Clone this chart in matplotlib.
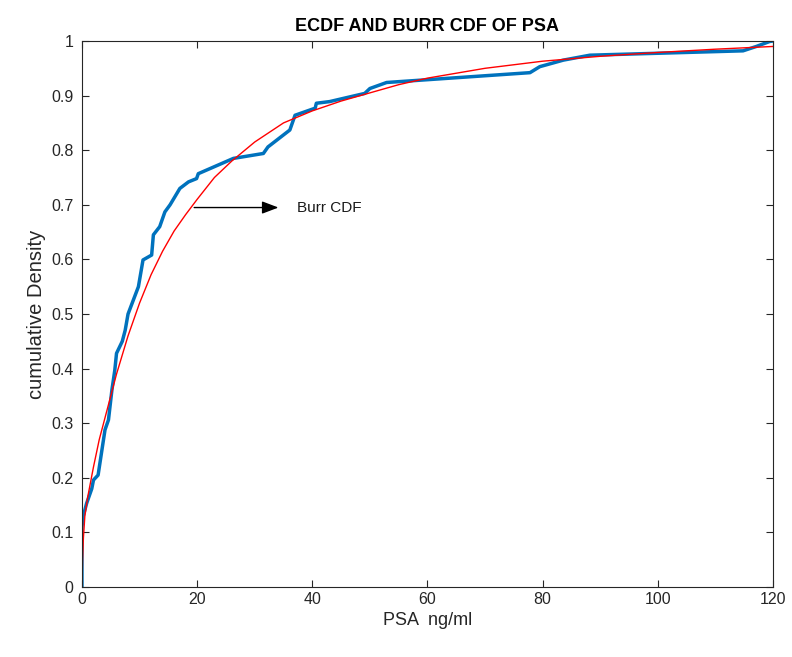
import numpy as np
import matplotlib.pyplot as plt

plt.rcParams['font.family'] = ['Liberation Sans', 'DejaVu Sans']

# ECDF of PSA
psa_ecdf = [0, 0, 0.2, 0.8, 1.7, 2.0, 2.8, 4.0, 4.6, 5.2, 5.7, 6.0, 7.0, 7.5, 8.0, 8.9,
            9.8, 10.6, 12.1, 12.4, 13.5, 14.4, 15.3, 17.0, 18.5, 19.9, 20.2, 26.3, 31.5,
            32.3, 36.1, 37.0, 40.5, 40.7, 43.0, 49.1, 50.0, 52.9, 77.8, 79.5, 83.6, 88.2,
            114.8, 117.1, 119.4, 120]
ecdf_val = [0, 0.11, 0.129, 0.153, 0.18, 0.196, 0.205, 0.288, 0.306, 0.361, 0.397, 0.428,
            0.45, 0.47, 0.50, 0.525, 0.55, 0.599, 0.608, 0.645, 0.66, 0.687, 0.70, 0.73,
            0.742, 0.748, 0.757, 0.785, 0.794, 0.806, 0.837, 0.864, 0.877, 0.886, 0.889,
            0.904, 0.913, 0.924, 0.942, 0.953, 0.965, 0.974, 0.982, 0.99, 0.999, 1.0]

# Burr CDF
psa_burr = [0, 0.1, 0.25, 0.5, 1, 2, 3, 4, 5, 6, 7, 8, 10, 12, 14, 16, 18, 20, 23, 26,
            30, 35, 40, 45, 50, 55, 60, 70, 80, 90, 100, 110, 120]
burr_val = [0, 0.05, 0.09, 0.13, 0.165, 0.22, 0.27, 0.31, 0.35, 0.39, 0.425, 0.46, 0.52,
            0.572, 0.615, 0.652, 0.682, 0.71, 0.75, 0.78, 0.815, 0.85, 0.872, 0.89, 0.905,
            0.92, 0.932, 0.95, 0.963, 0.972, 0.979, 0.985, 0.99]

fig = plt.figure(figsize=(7.92, 6.57), dpi=100)
ax = fig.add_axes([0.1035, 0.1065, 0.8725, 0.8311])

ax.plot(psa_ecdf, ecdf_val, color='#0072BD', linewidth=2.5)
ax.plot(psa_burr, burr_val, color='red', linewidth=1)

ax.annotate('', xy=(34.6, 0.695), xytext=(19.0, 0.695),
            arrowprops=dict(arrowstyle='-|>,head_length=1.0,head_width=0.38',
                            color='black', lw=1))
ax.text(37.3, 0.695, 'Burr CDF', fontsize=11, va='center', ha='left', color='#1a1a1a')

ax.set_xlim(0, 120)
ax.set_ylim(0, 1)
ax.set_xticks(np.arange(0, 121, 20))
ax.set_yticks(np.arange(0, 1.01, 0.1))
ax.set_yticklabels(['0', '0.1', '0.2', '0.3', '0.4', '0.5', '0.6', '0.7', '0.8', '0.9', '1'])
ax.tick_params(direction='in', top=True, right=True, labelsize=11.5,
               colors='#262626', length=5, width=0.8)
ax.tick_params(axis='y', pad=6)
for s in ax.spines.values():
    s.set_color('#262626')
    s.set_linewidth(0.8)

ax.set_xlabel('PSA  ng/ml', fontsize=13, color='#262626')
ax.set_ylabel('cumulative Density', fontsize=14.5, color='#262626', labelpad=4)
ax.set_title('ECDF AND BURR CDF OF PSA', fontsize=13, fontweight='bold', pad=7)

fig.savefig('out.png', dpi=100)
